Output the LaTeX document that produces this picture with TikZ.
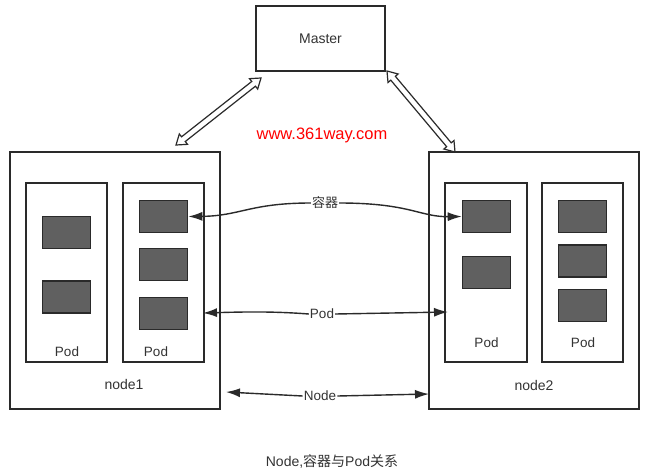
\documentclass[tikz,border=0pt]{standalone}
\usepackage{fontspec}
\setmainfont{Liberation Sans}
\newfontfamily\cjk{Noto Sans CJK SC}
\usetikzlibrary{arrows.meta,shapes.arrows,calc}
\definecolor{ink}{HTML}{2A2A2A}
\definecolor{txt}{HTML}{333333}
\definecolor{ctrfill}{HTML}{606060}
\begin{document}
\begin{tikzpicture}[x=1pt,y=-1pt,
  box/.style={draw=ink, line width=1.4pt, fill=white, inner sep=0pt},
  ctr/.style={draw=ink, line width=1.6pt, fill=ctrfill, minimum width=48, minimum height=32, inner sep=0pt},
  lbl/.style={text=txt, font=\fontsize{13.5}{15}\selectfont, inner sep=1pt},
  conn/.style={draw=ink, line width=1.4pt, -{Latex[length=14pt,width=9pt]}},
  darrow/.style={double arrow, draw=ink, line width=1.2pt, fill=white, inner sep=2.4pt,
    double arrow head extend=3.6pt, double arrow tip angle=70, minimum width=0pt, anchor=center}
]
\useasboundingbox (0,0) rectangle (645,472);
\fill[white] (0,0) rectangle (645,472);

% main boxes
\node[box, minimum width=129, minimum height=65] (master) at (320.5,38.5) {};
\node[lbl, font=\fontsize{14}{16}\selectfont] (mastert) at (master.center) {Master};
\node[box, minimum width=210, minimum height=257] (node1) at (115,280.5) {};
\node[box, minimum width=210, minimum height=257] (node2) at (534,280.5) {};

% pods
\node[box, minimum width=81, minimum height=179] (pod1) at (66.5,272.5) {};
\node[box, minimum width=81, minimum height=179] (pod2) at (163.5,272.5) {};
\node[box, minimum width=82, minimum height=179] (pod3) at (486,272.5) {};
\node[box, minimum width=81, minimum height=179] (pod4) at (582.5,272.5) {};

% containers
\node[ctr] (c11) at (66.5,232.5) {};
\node[ctr] (c12) at (66.5,297) {};
\node[ctr] (c21) at (163.5,216.5) {};
\node[ctr] (c22) at (163.5,264.5) {};
\node[ctr] (c23) at (163.5,313.5) {};
\node[ctr] (c31) at (486.5,216.5) {};
\node[ctr] (c32) at (486.5,272.5) {};
\node[ctr] (c41) at (582.5,216.5) {};
\node[ctr] (c42) at (582.5,261) {};
\node[ctr] (c43) at (582.5,305.5) {};

% labels
\node[lbl] (p1t) at (67,352) {Pod};
\node[lbl] (p2t) at (156,352) {Pod};
\node[lbl] (p3t) at (486.5,343) {Pod};
\node[lbl] (p4t) at (583,343) {Pod};
\node[lbl, font=\fontsize{14}{16}\selectfont] (n1t) at (124,384) {node1};
\node[lbl, font=\fontsize{14}{16}\selectfont] (n2t) at (534,385) {node2};

% red text
\node[text=red, font=\fontsize{16.5}{18}\selectfont, inner sep=0pt] (www) at (322,135) {www.361way.com};

% connector labels
\node[lbl, font=\cjk\fontsize{13}{15}\selectfont] (rq) at (325,203) {容器};
\node[lbl] (pl) at (322,314) {Pod};
\node[lbl] (nl) at (320,396) {Node};

% coordinates for free ends
\coordinate (pod2e) at (203,313);
\coordinate (pod3w) at (448,312);
\coordinate (node1e) at (226,392);
\coordinate (node2w) at (429,394);

% connectors
\draw[conn] (rq.west) .. controls (250,203) and (240,216) .. (c21.east);
\draw[conn] (rq.east) .. controls (410,203) and (420,217) .. (c31.west);
\draw[conn] (pl.west) .. controls (270,311) and (240,312) .. (pod2e);
\draw[conn] (pl.east) -- (pod3w);
\draw[conn] (nl.west) -- (node1e);
\draw[conn] (nl.east) -- (node2w);

% master double arrows
\coordinate (a1) at (176,145);
\coordinate (b1) at (261,78);
\coordinate (a2) at (387,71);
\coordinate (b2) at (455,152);
\path let \p1=($(b1)-(a1)$), \n1={atan2(\y1,\x1)}, \n2={veclen(\x1,\y1)} in
  node[darrow, rotate=\n1, minimum height=\n2] (da1) at ($(a1)!0.5!(b1)$) {};
\path let \p1=($(b2)-(a2)$), \n1={atan2(\y1,\x1)}, \n2={veclen(\x1,\y1)} in
  node[darrow, rotate=\n1, minimum height=\n2] (da2) at ($(a2)!0.5!(b2)$) {};

% caption
\node[text=txt, inner sep=0pt, font=\fontsize{14}{16}\selectfont] (cap) at (332,461) {Node,{\cjk 容器与}Pod{\cjk 关系}};
\end{tikzpicture}
\end{document}
